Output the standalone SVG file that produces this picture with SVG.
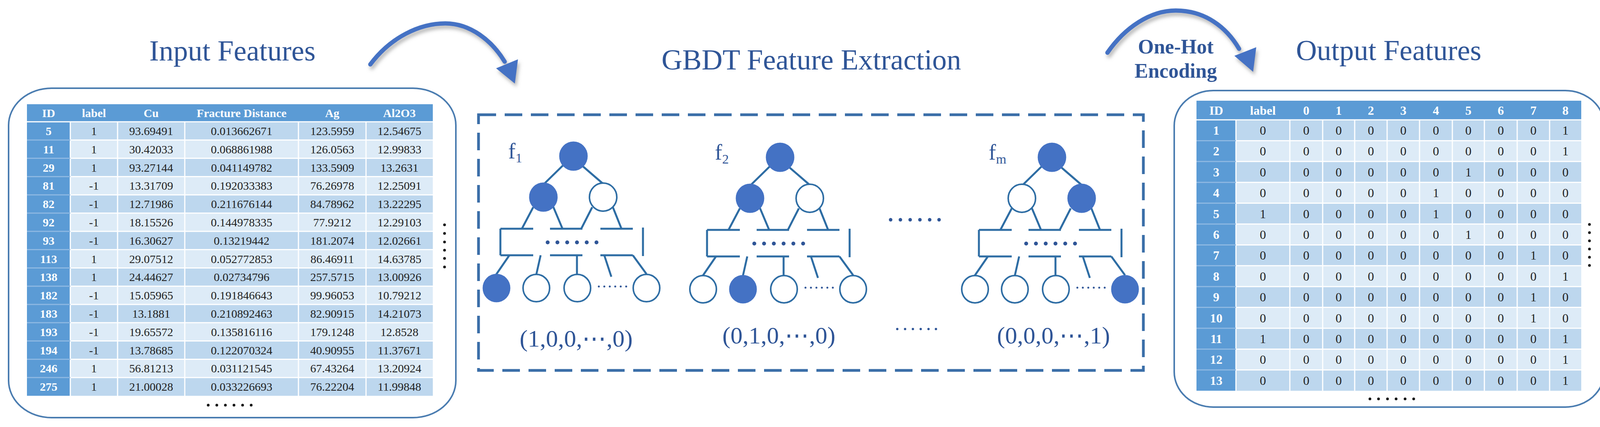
<svg xmlns="http://www.w3.org/2000/svg" xmlns:xlink="http://www.w3.org/1999/xlink" width="4128" height="1094" viewBox="0 0 4128 1094">
<style>
.ttl{font-family:"Liberation Serif","Times New Roman",serif;fill:#2F5597;font-size:74px;text-anchor:middle}
.oh{font-family:"Liberation Serif",serif;fill:#2F5597;font-size:52px;font-weight:bold;text-anchor:middle}
.hd{font-family:"Liberation Serif",serif;fill:#fff;font-weight:bold;font-size:30px;text-anchor:middle}
.dt{font-family:"Liberation Serif",serif;fill:#222;font-size:30px;text-anchor:middle}
.hd2{font-family:"Liberation Serif",serif;fill:#fff;font-weight:bold;font-size:32px;text-anchor:middle}
.dt2{font-family:"Liberation Serif",serif;fill:#222;font-size:32px;text-anchor:middle}
.idc{font-family:"Liberation Serif",serif;fill:#fff;font-weight:bold;text-anchor:middle}
.vec{font-family:"Liberation Serif",serif;fill:#2F5597;font-size:62px;text-anchor:middle}
.fl{font-family:"Liberation Serif",serif;fill:#2F5597;font-size:56px}
.box{fill:#fff;stroke:#4A7CB0;stroke-width:4}
.hdr{fill:#5B9BD5}
.rd{fill:#BDD7EE}
.rl{fill:#DDEBF7}
.grid{stroke:#fff;stroke-width:3}
.tl{stroke:#2E6DA4;stroke-width:5;fill:none}
.nf{fill:#4472C4;stroke:#4472C4;stroke-width:3}
.no{fill:#fff;stroke:#2E6DA4;stroke-width:4}
.dot{fill:#2F5597}
.arr{stroke:#4472C4;stroke-width:11;fill:none;stroke-linecap:round}
</style>
<defs>
<filter id="sh" x="-20%" y="-20%" width="140%" height="160%"><feDropShadow dx="4" dy="8" stdDeviation="5" flood-color="#888" flood-opacity="0.6"/></filter>
<g id="skel">
<path class="tl" d="M-27,24L-74,70M24,26L75,70M-103,131L-132,186M-52,129L-28,186M48,131L20,186M101,131L123,186"/>
<path class="tl" d="M-187,186H-103M-60,186H23M69,186H152M-187,254H-103M-60,254H23M69,254H152M-187,186V254M178,183V256"/>
<path class="tl" d="M-164,254L-199,305M-84,254L-95,303M9,254L9,303M79,254L97,309M152,254L187,302"/>
<g class="dot"><circle cx="-66" cy="221" r="5"/><circle cx="-41" cy="221" r="5"/><circle cx="-16" cy="221" r="5"/><circle cx="9" cy="221" r="5"/><circle cx="34" cy="221" r="5"/><circle cx="59" cy="221" r="5"/></g>
<g class="dot"><circle cx="65" cy="334" r="2.5"/><circle cx="79" cy="334" r="2.5"/><circle cx="93" cy="334" r="2.5"/><circle cx="107" cy="334" r="2.5"/><circle cx="121" cy="334" r="2.5"/><circle cx="135" cy="334" r="2.5"/></g>
</g>
</defs>
<rect width="4128" height="1094" fill="#fff"/>

<text class="ttl" x="595" y="155">Input Features</text>
<text class="ttl" x="2077" y="178">GBDT Feature Extraction</text>
<text class="ttl" x="3555" y="154">Output Features</text>

<g id="connectors">
<g filter="url(#sh)">
<path class="arr" d="M948,165C1000,95 1075,60 1140,60C1205,60 1260,105 1292,158"/>
<polygon points="1270,175 1326,152 1318,214" fill="#4472C4"/>
</g>
<g filter="url(#sh)">
<path class="arr" d="M2835,135C2880,70 2945,27 3010,27C3085,27 3140,70 3172,125"/>
<polygon points="3160,143 3216,121 3208,184" fill="#4472C4"/>
</g>
<text class="oh" x="3010" y="137">One-Hot</text>
<text class="oh" x="3010" y="199">Encoding</text>
</g>

<g id="input-table">
<rect class="box" x="22" y="226" width="1145" height="844" rx="110" ry="95"/>
<rect class="hdr" x="69" y="267" width="1039" height="45"/>
<g>
<rect class="rd" x="69" y="312" width="1039" height="46.8"/>
<rect class="rl" x="69" y="358.8" width="1039" height="46.8"/>
<rect class="rd" x="69" y="405.6" width="1039" height="46.8"/>
<rect class="rl" x="69" y="452.4" width="1039" height="46.8"/>
<rect class="rd" x="69" y="499.2" width="1039" height="46.8"/>
<rect class="rl" x="69" y="546" width="1039" height="46.8"/>
<rect class="rd" x="69" y="592.8" width="1039" height="46.8"/>
<rect class="rl" x="69" y="639.6" width="1039" height="46.8"/>
<rect class="rd" x="69" y="686.4" width="1039" height="46.8"/>
<rect class="rl" x="69" y="733.2" width="1039" height="46.8"/>
<rect class="rd" x="69" y="780" width="1039" height="46.8"/>
<rect class="rl" x="69" y="826.8" width="1039" height="46.8"/>
<rect class="rd" x="69" y="873.6" width="1039" height="46.8"/>
<rect class="rl" x="69" y="920.4" width="1039" height="46.8"/>
<rect class="rd" x="69" y="967.2" width="1039" height="46.8"/>
<rect class="hdr" x="69" y="312" width="111" height="702"/>
</g>
<path class="grid" d="M69,312H1108M180,358.8H1108M180,405.6H1108M180,452.4H1108M180,499.2H1108M180,546H1108M180,592.8H1108M180,639.6H1108M180,686.4H1108M180,733.2H1108M180,780H1108M180,826.8H1108M180,873.6H1108M180,920.4H1108M180,967.2H1108M180,312V1014M301,312V1014M473,312V1014M764,312V1014M937,312V1014"/>
<path d="M69,358.8H180M69,405.6H180M69,452.4H180M69,499.2H180M69,546H180M69,592.8H180M69,639.6H180M69,686.4H180M69,733.2H180M69,780H180M69,826.8H180M69,873.6H180M69,920.4H180M69,967.2H180" stroke="#8DB8E2" stroke-width="3"/>
<text class="hd" y="300"><tspan x="124.5">ID</tspan><tspan x="240.5">label</tspan><tspan x="387">Cu</tspan><tspan x="618.5">Fracture Distance</tspan><tspan x="850.5">Ag</tspan><tspan x="1022.5">Al2O3</tspan></text>
<g class="dt">
<text y="346"><tspan x="240.5">1</tspan><tspan x="387">93.69491</tspan><tspan x="618.5">0.013662671</tspan><tspan x="850.5">123.5959</tspan><tspan x="1022.5">12.54675</tspan></text>
<text y="392.8"><tspan x="240.5">1</tspan><tspan x="387">30.42033</tspan><tspan x="618.5">0.068861988</tspan><tspan x="850.5">126.0563</tspan><tspan x="1022.5">12.99833</tspan></text>
<text y="439.6"><tspan x="240.5">1</tspan><tspan x="387">93.27144</tspan><tspan x="618.5">0.041149782</tspan><tspan x="850.5">133.5909</tspan><tspan x="1022.5">13.2631</tspan></text>
<text y="486.4"><tspan x="240.5">-1</tspan><tspan x="387">13.31709</tspan><tspan x="618.5">0.192033383</tspan><tspan x="850.5">76.26978</tspan><tspan x="1022.5">12.25091</tspan></text>
<text y="533.2"><tspan x="240.5">-1</tspan><tspan x="387">12.71986</tspan><tspan x="618.5">0.211676144</tspan><tspan x="850.5">84.78962</tspan><tspan x="1022.5">13.22295</tspan></text>
<text y="580"><tspan x="240.5">-1</tspan><tspan x="387">18.15526</tspan><tspan x="618.5">0.144978335</tspan><tspan x="850.5">77.9212</tspan><tspan x="1022.5">12.29103</tspan></text>
<text y="626.8"><tspan x="240.5">-1</tspan><tspan x="387">16.30627</tspan><tspan x="618.5">0.13219442</tspan><tspan x="850.5">181.2074</tspan><tspan x="1022.5">12.02661</tspan></text>
<text y="673.6"><tspan x="240.5">1</tspan><tspan x="387">29.07512</tspan><tspan x="618.5">0.052772853</tspan><tspan x="850.5">86.46911</tspan><tspan x="1022.5">14.63785</tspan></text>
<text y="720.4"><tspan x="240.5">1</tspan><tspan x="387">24.44627</tspan><tspan x="618.5">0.02734796</tspan><tspan x="850.5">257.5715</tspan><tspan x="1022.5">13.00926</tspan></text>
<text y="767.2"><tspan x="240.5">-1</tspan><tspan x="387">15.05965</tspan><tspan x="618.5">0.191846643</tspan><tspan x="850.5">99.96053</tspan><tspan x="1022.5">10.79212</tspan></text>
<text y="814"><tspan x="240.5">-1</tspan><tspan x="387">13.1881</tspan><tspan x="618.5">0.210892463</tspan><tspan x="850.5">82.90915</tspan><tspan x="1022.5">14.21073</tspan></text>
<text y="860.8"><tspan x="240.5">-1</tspan><tspan x="387">19.65572</tspan><tspan x="618.5">0.135816116</tspan><tspan x="850.5">179.1248</tspan><tspan x="1022.5">12.8528</tspan></text>
<text y="907.6"><tspan x="240.5">-1</tspan><tspan x="387">13.78685</tspan><tspan x="618.5">0.122070324</tspan><tspan x="850.5">40.90955</tspan><tspan x="1022.5">11.37671</tspan></text>
<text y="954.4"><tspan x="240.5">1</tspan><tspan x="387">56.81213</tspan><tspan x="618.5">0.031121545</tspan><tspan x="850.5">67.43264</tspan><tspan x="1022.5">13.20924</tspan></text>
<text y="1001.2"><tspan x="240.5">1</tspan><tspan x="387">21.00028</tspan><tspan x="618.5">0.033226693</tspan><tspan x="850.5">76.22204</tspan><tspan x="1022.5">11.99848</tspan></text>
</g>
<g class="idc" font-size="30">
<text x="124.5" y="346">5</text><text x="124.5" y="392.8">11</text><text x="124.5" y="439.6">29</text><text x="124.5" y="486.4">81</text><text x="124.5" y="533.2">82</text><text x="124.5" y="580">92</text><text x="124.5" y="626.8">93</text><text x="124.5" y="673.6">113</text><text x="124.5" y="720.4">138</text><text x="124.5" y="767.2">182</text><text x="124.5" y="814">183</text><text x="124.5" y="860.8">193</text><text x="124.5" y="907.6">194</text><text x="124.5" y="954.4">246</text><text x="124.5" y="1001.2">275</text>
</g>
<g fill="#111"><circle cx="1138" cy="576" r="3.5"/><circle cx="1138" cy="598" r="3.5"/><circle cx="1138" cy="620" r="3.5"/><circle cx="1138" cy="641" r="3.5"/><circle cx="1138" cy="662" r="3.5"/><circle cx="1138" cy="684" r="3.5"/>
<circle cx="533" cy="1038" r="3.5"/><circle cx="555" cy="1038" r="3.5"/><circle cx="577" cy="1038" r="3.5"/><circle cx="599" cy="1038" r="3.5"/><circle cx="621" cy="1038" r="3.5"/><circle cx="643" cy="1038" r="3.5"/></g>
</g>

<g id="gbdt">
<rect x="1225" y="294" width="1702" height="655" fill="none" stroke="#3A6EA8" stroke-width="7" stroke-dasharray="45 22"/>
<g id="tree1" transform="translate(1468,400)">
<use xlink:href="#skel"/>
<ellipse class="nf" cx="0" cy="0" rx="35" ry="36"/>
<ellipse class="nf" cx="-77" cy="105" rx="35" ry="36"/>
<ellipse class="no" cx="76" cy="105" rx="35" ry="36"/>
<ellipse class="nf" cx="-197" cy="338" rx="34" ry="35"/>
<ellipse class="no" cx="-95" cy="338" rx="34" ry="35"/>
<ellipse class="no" cx="10" cy="338" rx="34" ry="35"/>
<ellipse class="no" cx="187" cy="338" rx="34" ry="35"/>
<text class="fl" x="-167" y="6">f<tspan font-size="34" dy="10">1</tspan></text>
</g>
<g id="tree2" transform="translate(1997,403)">
<use xlink:href="#skel"/>
<ellipse class="nf" cx="0" cy="0" rx="35" ry="36"/>
<ellipse class="nf" cx="-77" cy="105" rx="35" ry="36"/>
<ellipse class="no" cx="76" cy="105" rx="35" ry="36"/>
<ellipse class="no" cx="-197" cy="338" rx="34" ry="35"/>
<ellipse class="nf" cx="-95" cy="338" rx="34" ry="35"/>
<ellipse class="no" cx="10" cy="338" rx="34" ry="35"/>
<ellipse class="no" cx="187" cy="338" rx="34" ry="35"/>
<text class="fl" x="-167" y="6">f<tspan font-size="34" dy="10">2</tspan></text>
</g>
<g id="treem" transform="translate(2693,403)">
<use xlink:href="#skel"/>
<ellipse class="nf" cx="0" cy="0" rx="35" ry="36"/>
<ellipse class="no" cx="-77" cy="105" rx="35" ry="36"/>
<ellipse class="nf" cx="76" cy="105" rx="35" ry="36"/>
<ellipse class="no" cx="-197" cy="338" rx="34" ry="35"/>
<ellipse class="no" cx="-95" cy="338" rx="34" ry="35"/>
<ellipse class="no" cx="10" cy="338" rx="34" ry="35"/>
<ellipse class="nf" cx="187" cy="338" rx="34" ry="35"/>
<text class="fl" x="-162" y="6">f<tspan font-size="34" dy="10">m</tspan></text>
</g>
<g class="dot"><circle cx="2280" cy="563" r="4.5"/><circle cx="2305" cy="563" r="4.5"/><circle cx="2330" cy="563" r="4.5"/><circle cx="2355" cy="563" r="4.5"/><circle cx="2380" cy="563" r="4.5"/><circle cx="2404" cy="563" r="4.5"/>
<circle cx="2297" cy="843" r="3"/><circle cx="2317" cy="843" r="3"/><circle cx="2337" cy="843" r="3"/><circle cx="2357" cy="843" r="3"/><circle cx="2377" cy="843" r="3"/><circle cx="2396" cy="843" r="3"/></g>
<text class="vec" x="1475" y="888">(1,0,0,⋯,0)</text>
<text class="vec" x="1994" y="880">(0,1,0,⋯,0)</text>
<text class="vec" x="2697" y="880">(0,0,0,⋯,1)</text>
</g>

<g id="output-table">
<rect class="box" x="3006" y="232" width="1101" height="811" rx="100" ry="90"/>
<rect class="hdr" x="3063" y="258" width="985" height="49"/>
<rect class="rd" x="3063" y="307" width="985" height="53.4"/>
<rect class="rl" x="3063" y="360.4" width="985" height="53.4"/>
<rect class="rd" x="3063" y="413.8" width="985" height="53.4"/>
<rect class="rl" x="3063" y="467.2" width="985" height="53.4"/>
<rect class="rd" x="3063" y="520.6" width="985" height="53.4"/>
<rect class="rl" x="3063" y="574" width="985" height="53.4"/>
<rect class="rd" x="3063" y="627.4" width="985" height="53.4"/>
<rect class="rl" x="3063" y="680.8" width="985" height="53.4"/>
<rect class="rd" x="3063" y="734.2" width="985" height="53.4"/>
<rect class="rl" x="3063" y="787.6" width="985" height="53.4"/>
<rect class="rd" x="3063" y="841" width="985" height="53.4"/>
<rect class="rl" x="3063" y="894.4" width="985" height="53.4"/>
<rect class="rd" x="3063" y="947.8" width="985" height="53.4"/>
<rect class="hdr" x="3063" y="307" width="101" height="694"/>
<path class="grid" d="M3063,307H4048M3164,360.4H4048M3164,413.8H4048M3164,467.2H4048M3164,520.6H4048M3164,574H4048M3164,627.4H4048M3164,680.8H4048M3164,734.2H4048M3164,787.6H4048M3164,841H4048M3164,894.4H4048M3164,947.8H4048M3164,307V1001M3302,307V1001M3386,307V1001M3468,307V1001M3551,307V1001M3634,307V1001M3718,307V1001M3800,307V1001M3884,307V1001M3967,307V1001"/>
<path d="M3063,360.4H3164M3063,413.8H3164M3063,467.2H3164M3063,520.6H3164M3063,574H3164M3063,627.4H3164M3063,680.8H3164M3063,734.2H3164M3063,787.6H3164M3063,841H3164M3063,894.4H3164M3063,947.8H3164" stroke="#8DB8E2" stroke-width="3"/>
<text class="hd2" y="294"><tspan x="3113.5">ID</tspan><tspan x="3233">label</tspan><tspan x="3344">0</tspan><tspan x="3427">1</tspan><tspan x="3509.5">2</tspan><tspan x="3592.5">3</tspan><tspan x="3676">4</tspan><tspan x="3759">5</tspan><tspan x="3842">6</tspan><tspan x="3925.5">7</tspan><tspan x="4007.5">8</tspan></text>
<g class="dt2">
<text y="345"><tspan x="3233">0</tspan><tspan x="3344">0</tspan><tspan x="3427">0</tspan><tspan x="3509.5">0</tspan><tspan x="3592.5">0</tspan><tspan x="3676">0</tspan><tspan x="3759">0</tspan><tspan x="3842">0</tspan><tspan x="3925.5">0</tspan><tspan x="4007.5">1</tspan></text>
<text y="398.4"><tspan x="3233">0</tspan><tspan x="3344">0</tspan><tspan x="3427">0</tspan><tspan x="3509.5">0</tspan><tspan x="3592.5">0</tspan><tspan x="3676">0</tspan><tspan x="3759">0</tspan><tspan x="3842">0</tspan><tspan x="3925.5">0</tspan><tspan x="4007.5">1</tspan></text>
<text y="451.8"><tspan x="3233">0</tspan><tspan x="3344">0</tspan><tspan x="3427">0</tspan><tspan x="3509.5">0</tspan><tspan x="3592.5">0</tspan><tspan x="3676">0</tspan><tspan x="3759">1</tspan><tspan x="3842">0</tspan><tspan x="3925.5">0</tspan><tspan x="4007.5">0</tspan></text>
<text y="505.2"><tspan x="3233">0</tspan><tspan x="3344">0</tspan><tspan x="3427">0</tspan><tspan x="3509.5">0</tspan><tspan x="3592.5">0</tspan><tspan x="3676">1</tspan><tspan x="3759">0</tspan><tspan x="3842">0</tspan><tspan x="3925.5">0</tspan><tspan x="4007.5">0</tspan></text>
<text y="558.6"><tspan x="3233">1</tspan><tspan x="3344">0</tspan><tspan x="3427">0</tspan><tspan x="3509.5">0</tspan><tspan x="3592.5">0</tspan><tspan x="3676">1</tspan><tspan x="3759">0</tspan><tspan x="3842">0</tspan><tspan x="3925.5">0</tspan><tspan x="4007.5">0</tspan></text>
<text y="612"><tspan x="3233">0</tspan><tspan x="3344">0</tspan><tspan x="3427">0</tspan><tspan x="3509.5">0</tspan><tspan x="3592.5">0</tspan><tspan x="3676">0</tspan><tspan x="3759">1</tspan><tspan x="3842">0</tspan><tspan x="3925.5">0</tspan><tspan x="4007.5">0</tspan></text>
<text y="665.4"><tspan x="3233">0</tspan><tspan x="3344">0</tspan><tspan x="3427">0</tspan><tspan x="3509.5">0</tspan><tspan x="3592.5">0</tspan><tspan x="3676">0</tspan><tspan x="3759">0</tspan><tspan x="3842">0</tspan><tspan x="3925.5">1</tspan><tspan x="4007.5">0</tspan></text>
<text y="718.8"><tspan x="3233">0</tspan><tspan x="3344">0</tspan><tspan x="3427">0</tspan><tspan x="3509.5">0</tspan><tspan x="3592.5">0</tspan><tspan x="3676">0</tspan><tspan x="3759">0</tspan><tspan x="3842">0</tspan><tspan x="3925.5">0</tspan><tspan x="4007.5">1</tspan></text>
<text y="772.2"><tspan x="3233">0</tspan><tspan x="3344">0</tspan><tspan x="3427">0</tspan><tspan x="3509.5">0</tspan><tspan x="3592.5">0</tspan><tspan x="3676">0</tspan><tspan x="3759">0</tspan><tspan x="3842">0</tspan><tspan x="3925.5">1</tspan><tspan x="4007.5">0</tspan></text>
<text y="825.6"><tspan x="3233">0</tspan><tspan x="3344">0</tspan><tspan x="3427">0</tspan><tspan x="3509.5">0</tspan><tspan x="3592.5">0</tspan><tspan x="3676">0</tspan><tspan x="3759">0</tspan><tspan x="3842">0</tspan><tspan x="3925.5">1</tspan><tspan x="4007.5">0</tspan></text>
<text y="879"><tspan x="3233">1</tspan><tspan x="3344">0</tspan><tspan x="3427">0</tspan><tspan x="3509.5">0</tspan><tspan x="3592.5">0</tspan><tspan x="3676">0</tspan><tspan x="3759">0</tspan><tspan x="3842">0</tspan><tspan x="3925.5">0</tspan><tspan x="4007.5">1</tspan></text>
<text y="932.4"><tspan x="3233">0</tspan><tspan x="3344">0</tspan><tspan x="3427">0</tspan><tspan x="3509.5">0</tspan><tspan x="3592.5">0</tspan><tspan x="3676">0</tspan><tspan x="3759">0</tspan><tspan x="3842">0</tspan><tspan x="3925.5">0</tspan><tspan x="4007.5">1</tspan></text>
<text y="985.8"><tspan x="3233">0</tspan><tspan x="3344">0</tspan><tspan x="3427">0</tspan><tspan x="3509.5">0</tspan><tspan x="3592.5">0</tspan><tspan x="3676">0</tspan><tspan x="3759">0</tspan><tspan x="3842">0</tspan><tspan x="3925.5">0</tspan><tspan x="4007.5">1</tspan></text>
</g>
<g class="idc" font-size="32">
<text x="3113.5" y="345">1</text><text x="3113.5" y="398.4">2</text><text x="3113.5" y="451.8">3</text><text x="3113.5" y="505.2">4</text><text x="3113.5" y="558.6">5</text><text x="3113.5" y="612">6</text><text x="3113.5" y="665.4">7</text><text x="3113.5" y="718.8">8</text><text x="3113.5" y="772.2">9</text><text x="3113.5" y="825.6">10</text><text x="3113.5" y="879">11</text><text x="3113.5" y="932.4">12</text><text x="3113.5" y="985.8">13</text>
</g>
<g fill="#111"><circle cx="4069" cy="575" r="3.5"/><circle cx="4069" cy="596" r="3.5"/><circle cx="4069" cy="617" r="3.5"/><circle cx="4069" cy="638" r="3.5"/><circle cx="4069" cy="659" r="3.5"/><circle cx="4069" cy="680" r="3.5"/>
<circle cx="3507" cy="1022" r="3.5"/><circle cx="3529" cy="1022" r="3.5"/><circle cx="3552" cy="1022" r="3.5"/><circle cx="3574" cy="1022" r="3.5"/><circle cx="3597" cy="1022" r="3.5"/><circle cx="3619" cy="1022" r="3.5"/></g>
</g>
</svg>
